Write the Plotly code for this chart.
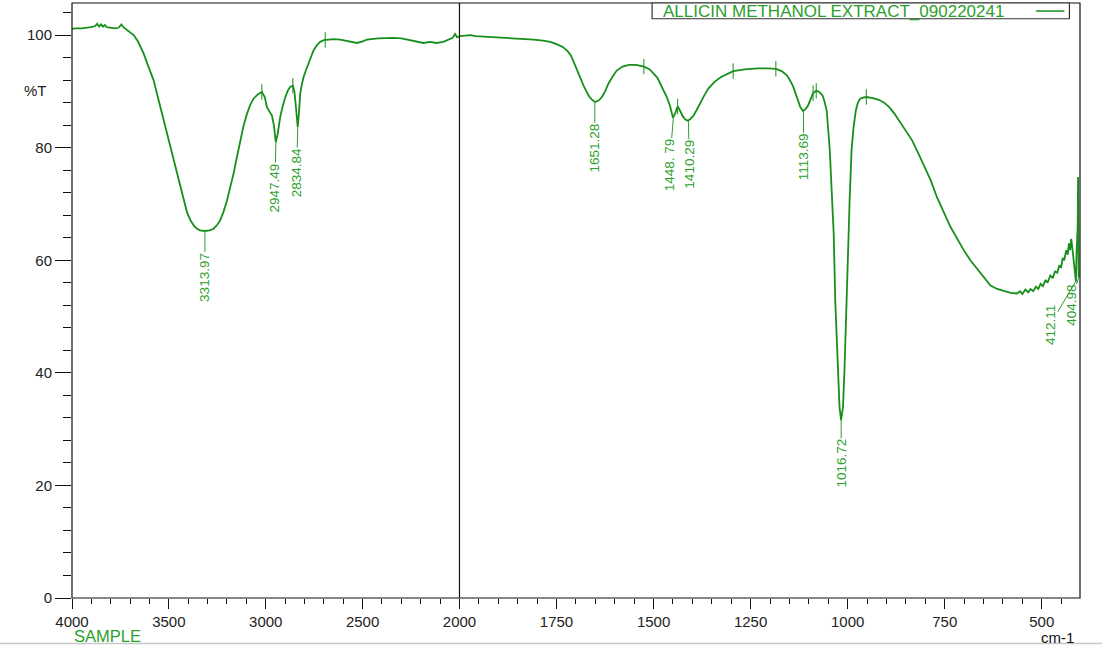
import numpy as np
import plotly.graph_objects as go

# ── Spectrum (wavenumber cm-1, %T) ──────────────────────────────────────────

WN = [
    4000, 3980, 3950, 3920, 3900, 3880, 3870, 3860, 3850, 3840, 3830, 3820,
    3800, 3780, 3760, 3745, 3735, 3720, 3700, 3682, 3660, 3645, 3630, 3610,
    3595, 3579, 3560, 3544, 3527, 3510, 3493, 3476, 3458, 3441, 3424, 3407,
    3390, 3372, 3355, 3338, 3314, 3290, 3269, 3250, 3235, 3218, 3200, 3183,
    3166, 3149, 3132, 3115, 3097, 3080, 3063, 3040, 3020, 3005, 2994, 2980,
    2968, 2958, 2948, 2938, 2925, 2912, 2899, 2885, 2874, 2860, 2852, 2845,
    2840, 2835, 2829, 2822, 2814, 2805, 2792, 2779, 2766, 2753, 2736, 2719,
    2700, 2684, 2650, 2615, 2580, 2550, 2529, 2500, 2478, 2420, 2340, 2300,
    2272, 2230, 2186, 2150, 2120, 2083, 2050, 2035, 2023, 2012, 2000,
    1972, 1959, 1930, 1895, 1850, 1809, 1785, 1766, 1750, 1734, 1722, 1713,
    1705, 1697, 1689, 1681, 1673, 1665, 1657, 1650, 1641, 1633, 1625, 1616,
    1605, 1595, 1580, 1563, 1545, 1525, 1510, 1499, 1490, 1483, 1475, 1466,
    1458, 1450, 1445, 1438, 1432, 1425, 1418, 1412, 1405, 1397, 1389, 1381,
    1370, 1359, 1343, 1327, 1310, 1295, 1265, 1231, 1205, 1185, 1170, 1156,
    1148, 1140, 1134, 1129, 1122, 1115, 1108, 1102, 1095, 1089, 1081, 1073,
    1065, 1060, 1054, 1050, 1046, 1043, 1040, 1036, 1032, 1026, 1021, 1017,
    1012, 1008, 1002, 997.5, 995, 992, 990, 985, 979, 974, 968, 960, 952,
    935, 920, 906, 893, 880, 867, 850, 834, 818, 802, 786, 770, 760, 749,
    735, 718, 701, 684, 667, 650, 632, 615, 598, 580, 564, 556, 550, 542,
    535, 529, 522, 515, 509, 503, 497, 490, 485, 478, 472, 466, 460, 455,
    450, 446, 442, 437, 433, 430, 427, 424, 421, 419, 416, 413, 412, 410.5,
    409, 407.5, 406.5, 405.5, 405,
]
T = [
    101.1, 101.2, 101.2, 101.3, 101.4, 101.6, 102.0, 101.5, 101.9, 101.5, 101.8, 101.4,
    101.3, 101.2, 101.3, 101.9, 101.4, 101.0, 100.6, 100.0, 98.9, 97.8, 96.7, 94.8,
    93.5, 92.0, 89.4, 87.2, 84.8, 82.5, 80.1, 77.7, 75.3, 73.0, 70.6, 68.6,
    67.2, 66.2, 65.6, 65.3, 65.2, 65.3, 65.6, 66.3, 67.1, 68.6, 70.6, 72.9,
    75.4, 78.3, 81.3, 83.8, 86.0, 87.6, 88.7, 89.5, 89.9, 89.0, 87.2, 86.3,
    85.7, 84.0, 81.0, 82.5, 85.5, 87.4, 89.0, 90.2, 90.8, 91.0, 90.0, 87.5,
    85.2, 83.7, 86.0, 89.6, 91.2, 92.5, 93.8, 94.9, 96.2, 97.3, 98.2, 98.8,
    99.1, 99.2, 99.3, 99.2, 99.0, 98.7, 98.6, 98.9, 99.2, 99.4, 99.5, 99.4,
    99.2, 98.9, 98.6, 98.8, 98.6, 98.8, 99.2, 99.5, 100.2, 99.6, 99.8,
    100.0, 99.8, 99.7, 99.5, 99.4, 99.2, 99.0, 98.8, 98.4, 97.9, 97.2, 96.4,
    95.1, 93.7, 92.4, 91.1, 90.0, 89.0, 88.4, 88.1, 88.4, 89.0, 90.0, 91.4,
    92.7, 93.7, 94.4, 94.7, 94.7, 94.4, 93.9, 93.1, 92.4, 91.4, 90.3, 89.0,
    87.5, 85.3, 86.0, 87.3, 86.6, 85.6, 85.0, 84.8, 85.1, 85.7, 86.7, 87.8,
    89.2, 90.5, 91.7, 92.5, 93.1, 93.6, 93.9, 94.1, 94.1, 94.0, 93.6, 92.8,
    91.9, 90.8, 89.6, 88.4, 87.2, 86.5, 86.9, 87.5, 88.8, 89.7, 90.1, 89.9,
    89.3, 88.3, 86.6, 83.5, 79.5, 75.0, 70.6, 64.7, 52.9, 41.0, 33.9, 31.6,
    33.9, 41.0, 52.9, 64.7, 70.6, 75.5, 79.5, 83.5, 86.6, 87.9, 88.7, 88.9, 89.0,
    88.8, 88.5, 88.0, 87.2, 86.1, 84.8, 83.1, 81.3, 79.0, 76.6, 74.2, 71.2, 69.8, 68.0,
    65.9, 63.8, 61.8, 60.0, 58.5, 57.0, 55.5, 54.9, 54.5, 54.2, 54.1, 54.5, 54.0, 54.8,
    54.3, 54.9, 54.5, 55.3, 54.9, 55.8, 55.4, 56.5, 56.0, 57.3, 56.8, 58.0, 57.8, 59.0,
    58.8, 60.4, 60.0, 61.8, 61.0, 63.0, 61.8, 63.8, 62.0, 60.6, 59.0, 57.0, 56.2, 61.0,
    64.7, 66.0, 74.8, 62.0, 57.0,
]

PEAK_WN = [3313.97, 2947.49, 2834.84, 1651.28, 1448.79, 1410.29, 1113.69, 1016.72, 412.11, 404.98]
PEAK_TXT = ["3313.97", "2947.49", "2834.84", "1651.28", "1448. 79", "1410.29",
            "1113.69", "1016.72", "412.11", "404.98"]
# little vertical marks the software puts on local maxima
MAX_WN = [3020, 2860, 2693, 1525, 1438, 1295, 1185, 1089, 1081, 952]

X_LEFT = [4000, 3500, 3000, 2500]
X_RIGHT = [2000, 1750, 1500, 1250, 1000, 750, 500]
Y_TICKS = [0, 20, 40, 60, 80, 100]

LINE_GREEN = "#17901b"
TEXT_GREEN = "#2b9f2b"
FONT = "Liberation Sans, Arial, sans-serif"

wn = np.array(WN, dtype=float)
tr = np.array(T, dtype=float)
order = np.argsort(wn)


def t_at(w):
    return float(np.interp(w, wn[order], tr[order]))


def axis_of(w):
    return "x" if w > 2000 else "x2"


SPLIT = 0.3844

fig = go.Figure()
left = wn >= 2000
right = wn <= 2000
fig.add_trace(go.Scatter(x=wn[left], y=tr[left], mode="lines", xaxis="x", yaxis="y",
                         line=dict(color=LINE_GREEN, width=1.8), showlegend=False))
fig.add_trace(go.Scatter(x=wn[right], y=tr[right], mode="lines", xaxis="x2", yaxis="y",
                         line=dict(color=LINE_GREEN, width=1.8), showlegend=False))

for ax_name in ("x", "x2"):
    pts = [w for w in MAX_WN if axis_of(w) == ax_name]
    fig.add_trace(go.Scatter(
        x=pts, y=[t_at(w) for w in pts], mode="markers", xaxis=ax_name, yaxis="y",
        marker=dict(symbol="line-ns", size=11, line=dict(color=LINE_GREEN, width=1)),
        showlegend=False, hoverinfo="skip",
    ))

# label offsets in pixels (text centre relative to the peak)
LABEL_OFF = [(0, 46), (-1, 46), (-1, 46), (0, 46), (-4, 48), (1, 44),
             (0, 46), (0, 44), (-26, 44), (-8, 28)]

annotations = []
for w, txt, (dx, dy) in zip(PEAK_WN, PEAK_TXT, LABEL_OFF):
    annotations.append(dict(
        x=w, y=t_at(w), xref=axis_of(w), yref="y", text=txt, textangle=-90,
        showarrow=True, arrowhead=0, arrowwidth=1, arrowcolor=TEXT_GREEN,
        ax=dx, ay=dy, font=dict(family=FONT, size=13.5, color=TEXT_GREEN),
        borderpad=0,
    ))

annotations += [
    dict(x=-0.0364, y=90.2, xref="paper", yref="y", text="%T", showarrow=False,
         xanchor="center", yanchor="middle",
         font=dict(family=FONT, size=15, color="#222")),
    dict(x=0.0, y=-0.064, xref="paper", yref="paper", text="SAMPLE", showarrow=False,
         xanchor="left", yanchor="middle", font=dict(family=FONT, size=16.5, color=TEXT_GREEN)),
    dict(x=0.9965, y=-0.066, xref="paper", yref="paper", text="cm-1", showarrow=False,
         xanchor="right", yanchor="middle", font=dict(family=FONT, size=15, color="#111")),
    dict(x=0.584, y=0.9865, xref="paper", yref="paper",
         text="ALLICIN METHANOL EXTRACT_090220241", showarrow=False,
         xanchor="left", yanchor="middle", font=dict(family=FONT, size=17, color=TEXT_GREEN)),
]

shapes = [
    # plot frame and the scale break at 2000
    dict(type="rect", xref="paper", yref="paper", x0=0, x1=1, y0=0, y1=1,
         line=dict(color="#111", width=1.2)),
    dict(type="line", xref="paper", yref="paper", x0=SPLIT, x1=SPLIT, y0=0, y1=1,
         line=dict(color="#111", width=1.2)),
    # legend box with the sample line on the right
    dict(type="rect", xref="paper", yref="paper", x0=0.5755, x1=0.9895, y0=0.9735, y1=1,
         line=dict(color="#333", width=1.2), fillcolor="white", layer="above"),
    dict(type="line", xref="paper", yref="paper", x0=0.9565, x1=0.9845, y0=0.9865, y1=0.9865,
         line=dict(color=LINE_GREEN, width=1.5)),
    # grey rule under the chart
    dict(type="line", xref="paper", yref="paper", x0=-0.072, x1=1.022, y0=-0.0765, y1=-0.0765,
         line=dict(color="#c8c8c8", width=1.5)),
]

tickfont = dict(family=FONT, size=15, color="#222")

fig.update_layout(
    width=1102, height=648,
    margin=dict(l=72, r=22, t=3, b=50),
    paper_bgcolor="white", plot_bgcolor="white",
    showlegend=False,
    xaxis=dict(domain=[0, SPLIT], range=[4000, 2000], tickvals=X_LEFT,
               ticks="outside", ticklen=10, tickcolor="#111", tickwidth=1,
               minor=dict(dtick=100, ticks="outside", ticklen=5, tickcolor="#111"),
               showgrid=False, zeroline=False, showline=False, tickfont=tickfont,
               anchor="y"),
    xaxis2=dict(domain=[SPLIT, 1], range=[2000, 401.5], tickvals=X_RIGHT,
                ticks="outside", ticklen=10, tickcolor="#111", tickwidth=1,
                minor=dict(dtick=50, ticks="outside", ticklen=5, tickcolor="#111"),
                showgrid=False, zeroline=False, showline=False, tickfont=tickfont,
                anchor="y"),
    yaxis=dict(range=[0, 105.7], tickvals=Y_TICKS,
               ticks="outside", ticklen=16, tickcolor="#111", tickwidth=1,
               minor=dict(dtick=4, ticks="outside", ticklen=8, tickcolor="#111"),
               showgrid=False, zeroline=False, showline=False, tickfont=tickfont),
    annotations=annotations,
    shapes=shapes,
)

# the page's default body margin would push the 1102x648 figure 8px off
fig.write_html("out.html", config={"displayModeBar": False},
               post_script="document.body.style.margin='0px';")
